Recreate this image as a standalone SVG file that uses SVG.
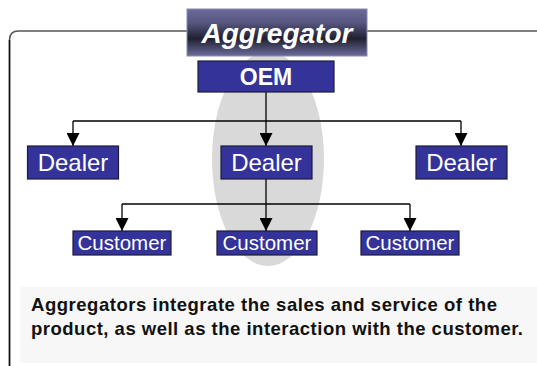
<svg xmlns="http://www.w3.org/2000/svg" width="537" height="366" viewBox="0 0 537 366">
  <defs>
    <linearGradient id="titleGrad" x1="0" y1="0" x2="0" y2="1">
      <stop offset="0" stop-color="#6c6c9c"/>
      <stop offset="0.3" stop-color="#55557f"/>
      <stop offset="0.63" stop-color="#202030"/>
      <stop offset="1" stop-color="#6c6c9c"/>
    </linearGradient>
    <marker id="arrow" markerUnits="userSpaceOnUse" markerWidth="13" markerHeight="13" refX="13" refY="6.5" orient="auto" viewBox="0 0 13 13">
      <path d="M0,0 L13,6.5 L0,13 z" fill="#000"/>
    </marker>
  </defs>
  <style>
    .box { fill: #333399; stroke: #1c1c3a; stroke-width: 1.2; }
    .lbl { fill: #ffffff; font-family: "Liberation Sans", Arial, sans-serif; text-anchor: middle; }
    .conn { fill: none; stroke: #000; stroke-width: 1.3; }
    .desc { fill: #111; font-family: "Liberation Sans", Arial, sans-serif; font-weight: bold; font-size: 18.5px; }
  </style>
  <rect width="537" height="366" fill="#ffffff"/>
  <g id="frame">
    <path d="M9.5,366 L9.5,40 Q9.5,31 18.5,31 L537,31" fill="none" stroke="#555" stroke-width="1.5"/>
    <path d="M9.5,366 L9.5,40" fill="none" stroke="#111" stroke-width="1.5"/>
  </g>
  <ellipse id="highlight" cx="268" cy="159" rx="56" ry="107" fill="#d9d9d9"/>
  <g id="title">
    <rect x="187" y="9" width="180" height="47" fill="url(#titleGrad)" stroke="#8a8ab0" stroke-width="1"/>
    <text x="277" y="43" class="lbl" font-size="28" font-weight="bold" font-style="italic">Aggregator</text>
  </g>
  <g id="connectors">
    <path class="conn" d="M266,92 L266,121"/>
    <path class="conn" d="M73,121 L461,121"/>
    <path class="conn" d="M73,121 L73,146" marker-end="url(#arrow)"/>
    <path class="conn" d="M266,121 L266,146" marker-end="url(#arrow)"/>
    <path class="conn" d="M461,121 L461,146" marker-end="url(#arrow)"/>
    <path class="conn" d="M266,179 L266,204"/>
    <path class="conn" d="M122,204 L410,204"/>
    <path class="conn" d="M122,204 L122,231" marker-end="url(#arrow)"/>
    <path class="conn" d="M266,204 L266,231" marker-end="url(#arrow)"/>
    <path class="conn" d="M410,204 L410,231" marker-end="url(#arrow)"/>
  </g>
  <g id="oem">
    <rect class="box" x="198" y="61" width="136" height="31"/>
    <text x="266" y="84.5" class="lbl" font-size="23" font-weight="bold">OEM</text>
  </g>
  <g id="dealer1">
    <rect class="box" x="27.5" y="146" width="91" height="33"/>
    <text x="73" y="171" class="lbl" font-size="24">Dealer</text>
  </g>
  <g id="dealer2">
    <rect class="box" x="221" y="146" width="91" height="33"/>
    <text x="266.5" y="171" class="lbl" font-size="24">Dealer</text>
  </g>
  <g id="dealer3">
    <rect class="box" x="416" y="146" width="91" height="33"/>
    <text x="461.5" y="171" class="lbl" font-size="24">Dealer</text>
  </g>
  <g id="customer1">
    <rect class="box" x="73" y="231" width="98" height="24"/>
    <text x="122" y="250" class="lbl" font-size="20.5">Customer</text>
  </g>
  <g id="customer2">
    <rect class="box" x="217" y="231" width="100" height="24"/>
    <text x="267" y="250" class="lbl" font-size="20.5">Customer</text>
  </g>
  <g id="customer3">
    <rect class="box" x="361" y="231" width="98" height="24"/>
    <text x="410" y="250" class="lbl" font-size="20.5">Customer</text>
  </g>
  <g id="description">
    <rect x="20" y="287" width="517" height="76" fill="#f7f7f7"/>
    <text class="desc" x="31" y="311" textLength="466" lengthAdjust="spacing">Aggregators integrate the sales and service of the</text>
    <text class="desc" x="31" y="335" textLength="492" lengthAdjust="spacing">product, as well as the interaction with the customer.</text>
  </g>
</svg>
